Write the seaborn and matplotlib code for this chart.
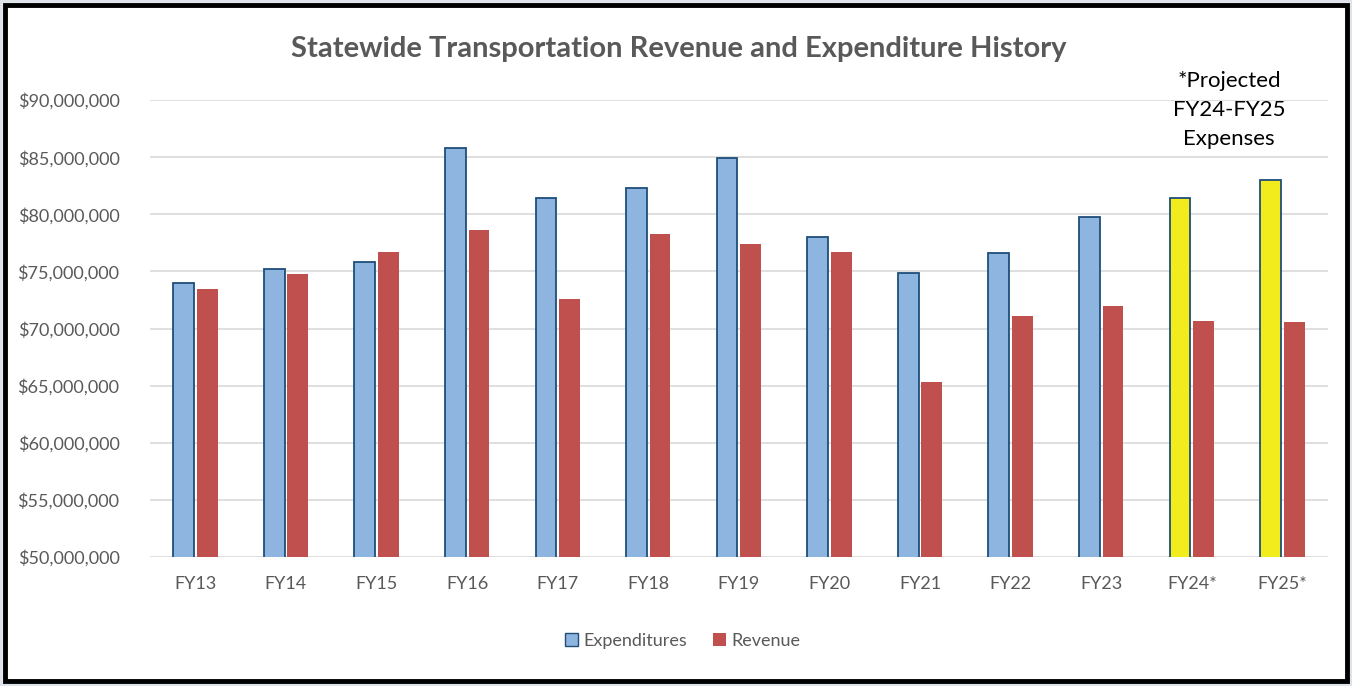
import matplotlib
matplotlib.use('Agg')
import matplotlib.pyplot as plt
import matplotlib.ticker as mticker
from matplotlib.patches import Rectangle, Patch
import pandas as pd
import seaborn as sns

years = ['FY13', 'FY14', 'FY15', 'FY16', 'FY17', 'FY18', 'FY19',
         'FY20', 'FY21', 'FY22', 'FY23', 'FY24*', 'FY25*']
expenditures = [73_950_000, 75_200_000, 75_850_000, 85_850_000, 81_450_000, 82_350_000,
                84_900_000, 78_000_000, 74_900_000, 76_600_000, 79_800_000, 81_400_000,
                83_000_000]
revenue = [73_500_000, 74_750_000, 76_700_000, 78_600_000, 72_600_000, 78_250_000,
           77_400_000, 76_700_000, 65_300_000, 71_100_000, 72_000_000, 70_700_000,
           70_550_000]
projected = ['FY24*', 'FY25*']

df = pd.DataFrame({'year': years * 2,
                   'amount': expenditures + revenue,
                   'series': ['Expenditures'] * len(years) + ['Revenue'] * len(years)})

sns.set_theme(style='white')
plt.rcParams['font.family'] = ['Lato', 'DejaVu Sans']

blue = '#8eb4e0'
red = '#c0504d'
yellow = '#f2ec1c'
grey_txt = '#595959'

fig = plt.figure(figsize=(13.52, 6.86), dpi=100)
fig.patch.set_facecolor('white')
ax = fig.add_axes([0.111, 0.188, 0.871, 0.666])

sns.barplot(data=df, x='year', y='amount', hue='series', ax=ax,
            palette={'Expenditures': blue, 'Revenue': red}, saturation=1,
            width=0.52, gap=0.12, legend=False)

for bar, yr in zip(ax.containers[0], years):
    bar.set_edgecolor('#1f4e79')
    bar.set_linewidth(1.3)
    if yr in projected:
        bar.set_facecolor(yellow)
for bar in ax.containers[1]:
    bar.set_edgecolor('none')

ax.set_ylim(50_000_000, 90_000_000)
ax.set_xlim(-0.5, len(years) - 0.5)
ax.yaxis.set_major_locator(mticker.MultipleLocator(5_000_000))
ax.yaxis.set_major_formatter(mticker.FuncFormatter(lambda v, p: f'${v:,.0f}'))
ax.grid(axis='y', color='#d9d9d9', linewidth=1.2)
ax.set_axisbelow(True)
for s in ax.spines.values():
    s.set_visible(False)
ax.tick_params(axis='y', labelsize=13, labelcolor=grey_txt, pad=22, length=0)
ax.tick_params(axis='x', labelsize=13, labelcolor=grey_txt, pad=14, length=0)
ax.set_xlabel('')
ax.set_ylabel('')

fig.text(0.502, 0.928, 'Statewide Transportation Revenue and Expenditure History',
         ha='center', va='center', fontsize=21, fontweight='bold', color=grey_txt)
fig.text(0.909, 0.84, '*Projected\nFY24-FY25\nExpenses', ha='center', va='center',
         fontsize=16, color='black', linespacing=1.55)

handles = [Patch(facecolor=blue, edgecolor='#1f4e79', label='Expenditures'),
           Patch(facecolor=red, edgecolor='none', label='Revenue')]
fig.legend(handles=handles, loc='center', bbox_to_anchor=(0.505, 0.066), ncol=2,
           frameon=False, fontsize=13, handlelength=0.75, handleheight=0.75,
           handletextpad=0.3, columnspacing=1.4, labelcolor=grey_txt)

# outer frame
fig.add_artist(Rectangle((0.0, 0.0), 1.0, 1.0, transform=fig.transFigure,
                         fill=False, edgecolor='#dde3e8', linewidth=4))
fig.add_artist(Rectangle((0.004, 0.008), 0.992, 0.985, transform=fig.transFigure,
                         fill=False, edgecolor='black', linewidth=3.5))

fig.savefig('out.png', dpi=100)
